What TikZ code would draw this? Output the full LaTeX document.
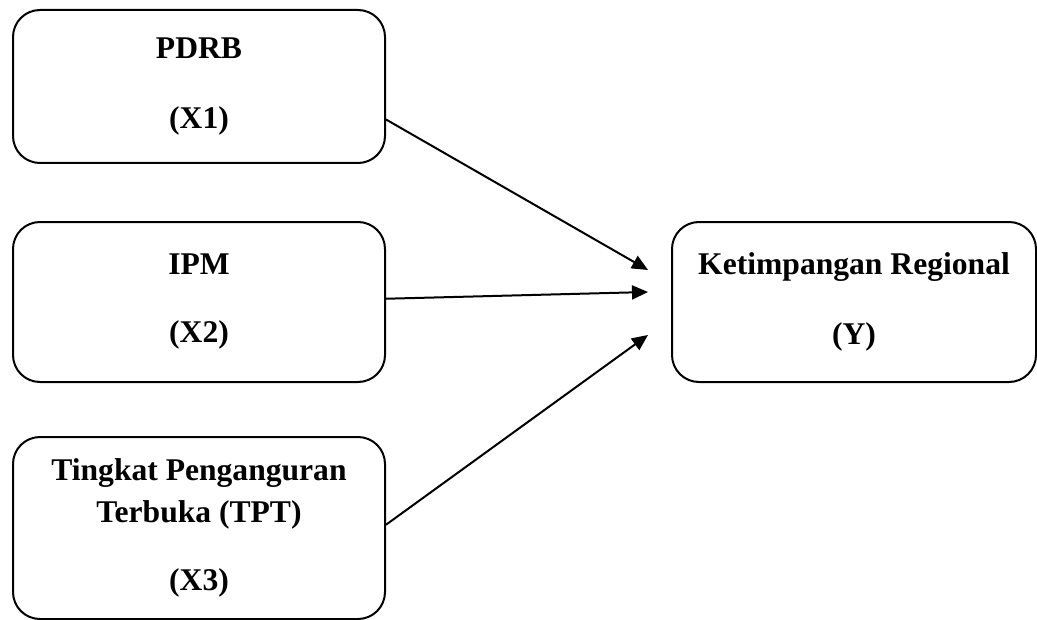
\documentclass[tikz,border=0pt]{standalone}
\usepackage{fontspec}
\setmainfont{Liberation Serif}
\usetikzlibrary{arrows.meta}

\begin{document}
\begin{tikzpicture}[x=0.5pt,y=-0.5pt,
  varbox/.style={draw, line width=1pt, rounded corners=13.5pt, minimum width=186pt,
    inner sep=0pt, align=center, font=\fontsize{15.8}{21}\selectfont\bfseries},
  link/.style={line width=1pt, -{Triangle[length=8pt,width=7pt]}}]

\useasboundingbox[fill=white] (0,0) rectangle (1037,620);

% independent variables
\node[varbox, minimum height=76.5pt] (pdrb) at (199,86.5) {PDRB\\[14pt](X1)};
\node[varbox, minimum height=80pt] (ipm) at (199,302) {IPM\\[13pt](X2)};
\node[varbox, minimum height=91pt] (tpt) at (199,528)
  {Tingkat Penganguran\\Terbuka (TPT)\\[13pt](X3)};

% dependent variable
\node[varbox, minimum width=182pt, minimum height=80pt] (ketimpangan) at (854,302)
  {Ketimpangan Regional\\[14pt](Y)};

% arrow tips
\coordinate (tipa) at (648,270);
\coordinate (tipb) at (648,292);
\coordinate (tipc) at (648,335);

\draw[link] (pdrb.-10) -- (tipa);
\draw[link] (ipm.1.5) -- (tipb);
\draw[link] (tpt.1) -- (tipc);

\end{tikzpicture}
\end{document}
